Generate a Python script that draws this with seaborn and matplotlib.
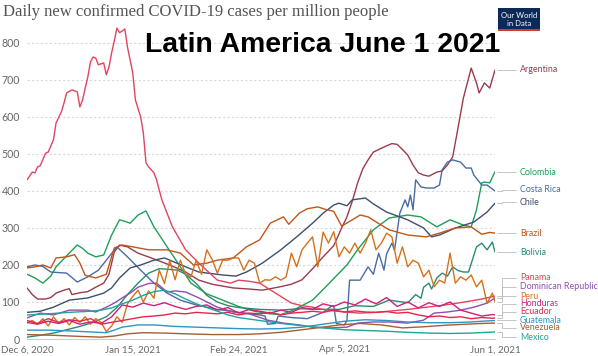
import pandas as pd
import matplotlib
matplotlib.use('Agg')
import matplotlib.pyplot as plt
import seaborn as sns
from matplotlib.patches import Rectangle

start = pd.Timestamp('2020-12-06')

# days after Dec 6 2020 / daily new cases per million
argentina_days = [0, 2, 4, 7, 9, 11, 14, 16, 17, 20, 23, 26, 29, 31, 33, 35, 38, 42, 47, 54, 60, 65, 70, 78, 84, 89,
                  95, 100, 104, 108, 112, 116, 119, 121, 123, 125, 127, 129, 131, 133, 136, 138, 140, 142, 144, 146,
                  148, 150, 152, 155, 157, 159, 161, 163, 165, 168, 170, 171, 173, 175, 177]
argentina_vals = [138, 120, 108, 108, 112, 124, 132, 136, 120, 125, 128, 140, 151, 175, 235, 254, 249, 232, 219, 200,
                  181, 159, 148, 138, 135, 132, 140, 148, 160, 190, 222, 252, 300, 330, 372, 421, 460, 484, 505, 512,
                  522, 528, 526, 512, 497, 470, 449, 443, 440, 451, 454, 470, 492, 570, 650, 732, 692, 665, 692, 678,
                  727]

colombia_days = [0, 3, 6, 9, 11, 15, 19, 21, 23, 26, 29, 32, 35, 37, 39, 42, 45, 48, 53, 58, 62, 68, 74, 80, 86, 92,
                 96, 100, 104, 108, 113, 118, 121, 125, 131, 137, 144, 149, 155, 160, 165, 168, 170, 172, 173, 175, 177]
colombia_vals = [175, 165, 151, 170, 195, 225, 254, 245, 232, 222, 227, 281, 322, 318, 313, 335, 346, 303, 249, 195,
                 151, 122, 105, 88, 75, 68, 66, 76, 90, 105, 141, 178, 200, 241, 295, 327, 335, 330, 303, 322, 308,
                 303, 349, 422, 424, 422, 452]

costa_rica_days = [0, 3, 6, 9, 15, 19, 23, 27, 31, 34, 38, 43, 48, 53, 58, 64, 72, 80, 88, 90, 91, 94, 95, 100, 106,
                   112, 115, 116, 117, 120, 121, 122, 126, 129, 131, 133, 134, 135, 136, 138, 139, 141, 143, 144, 145,
                   146, 147, 149, 151, 154, 156, 157, 159, 161, 164, 166, 168, 169, 172, 174, 177]
costa_rica_vals = [195, 200, 196, 181, 178, 154, 168, 186, 222, 249, 222, 186, 151, 124, 105, 92, 80, 72, 65, 62, 40,
                   42, 62, 58, 55, 72, 88, 90, 42, 38, 50, 159, 159, 195, 175, 232, 210, 186, 230, 259, 240, 340, 376,
                   357, 389, 349, 430, 411, 408, 408, 416, 457, 478, 484, 478, 462, 462, 443, 416, 416, 400]

chile_days = [0, 5, 10, 16, 23, 29, 32, 35, 39, 43, 48, 52, 55, 60, 65, 74, 79, 83, 89, 96, 102, 108, 112, 116, 118,
              121, 123, 128, 131, 136, 144, 150, 153, 156, 162, 169, 174, 177]
chile_vals = [72, 75, 86, 105, 111, 124, 138, 165, 192, 200, 213, 219, 210, 195, 181, 173, 170, 181, 205, 241, 276,
              313, 340, 362, 367, 360, 376, 381, 365, 343, 322, 300, 276, 281, 300, 316, 343, 367]

brazil_days = [0, 3, 6, 9, 11, 15, 18, 20, 22, 26, 30, 33, 36, 40, 46, 53, 58, 63, 68, 72, 78, 83, 88, 92, 97, 99,
               103, 106, 110, 113, 116, 119, 123, 126, 129, 133, 137, 144, 151, 156, 162, 168, 172, 175, 177]
brazil_vals = [192, 195, 200, 192, 219, 222, 228, 205, 172, 165, 175, 246, 254, 249, 241, 241, 232, 200, 205, 213,
               219, 249, 268, 313, 330, 310, 340, 352, 357, 350, 345, 305, 322, 335, 330, 312, 295, 281, 276, 286,
               300, 303, 283, 288, 286]

bolivia_days = [0, 5, 10, 15, 20, 25, 30, 34, 38, 42, 46, 50, 54, 57, 60, 64, 68, 72, 76, 80, 88, 96, 103, 110, 118,
                124, 131, 137, 144, 147, 149, 150, 152, 153, 155, 157, 159, 161, 163, 165, 167, 170, 172, 174, 176, 177]
bolivia_vals = [5, 10, 16, 25, 34, 45, 60, 85, 120, 151, 178, 190, 188, 186, 175, 150, 118, 100, 90, 85, 80, 78, 82,
                80, 80, 90, 88, 105, 98, 120, 110, 140, 151, 135, 165, 178, 170, 195, 185, 181, 181, 249, 259, 241,
                262, 235]

panama_days = [0, 2, 3, 4, 5, 7, 8, 10, 11, 13, 14, 15, 17, 19, 20, 21, 23, 24, 25, 26, 27, 29, 30, 31, 32, 33, 34,
               35, 36, 37, 38, 40, 41, 43, 44, 45, 46, 48, 49, 51, 55, 60, 65, 72, 77, 80, 84, 88, 94, 100, 104, 108,
               112, 116, 120, 126, 132, 138, 144, 150, 156, 162, 168, 172, 177]
panama_vals = [430, 451, 449, 465, 468, 502, 505, 538, 584, 614, 638, 665, 673, 668, 627, 646, 708, 749, 762, 759,
               741, 746, 714, 735, 773, 805, 840, 828, 832, 838, 789, 719, 646, 600, 557, 476, 465, 449, 430, 376,
               303, 241, 205, 159, 151, 159, 156, 151, 124, 97, 90, 86, 80, 76, 73, 70, 72, 76, 80, 85, 90, 96, 103,
               108, 116]

dominican_days = [0, 5, 10, 16, 23, 26, 30, 33, 36, 39, 42, 46, 49, 53, 56, 60, 65, 72, 78, 84, 91, 97, 103, 108,
                  115, 121, 125, 131, 137, 144, 150, 154, 159, 164, 169, 174, 177]
dominican_vals = [57, 70, 65, 78, 78, 73, 86, 97, 111, 124, 140, 150, 151, 127, 130, 127, 111, 86, 73, 68, 51, 43,
                  38, 32, 30, 32, 43, 46, 46, 43, 51, 70, 73, 78, 86, 97, 111]

peru_days = list(range(0, 177, 2)) + [177]
peru_vals = [43, 50, 40, 55, 35, 60, 42, 55, 38, 58, 45, 60, 40, 55, 45, 20, 35, 60, 45, 95, 115, 132, 100, 130, 110,
             186, 150, 213, 160, 213, 175, 168, 213, 175, 241, 215, 178, 213, 213, 219, 219, 186, 213, 205, 151, 160,
             159, 168, 159, 168, 232, 195, 241, 259, 276, 195, 289, 259, 290, 222, 249, 232, 259, 232, 259, 295, 241,
             259, 286, 276, 205, 249, 195, 213, 205, 168, 186, 141, 159, 151, 232, 151, 168, 159, 173, 141, 159, 97,
             124, 100]

honduras_days = list(range(0, 177, 4)) + [177]
honduras_vals = [45, 40, 48, 42, 50, 40, 46, 42, 60, 92, 86, 97, 90, 98, 88, 80, 88, 92, 78, 85, 70, 80, 75, 70, 78,
                 72, 85, 80, 95, 88, 100, 92, 108, 95, 112, 88, 100, 84, 98, 88, 100, 78, 70, 62, 66, 65]

ecuador_days = list(range(0, 177, 4)) + [177]
ecuador_vals = [50, 42, 55, 45, 52, 48, 55, 40, 45, 50, 55, 60, 62, 65, 70, 68, 72, 70, 68, 72, 65, 70, 68, 72, 65,
                70, 72, 75, 72, 78, 73, 76, 73, 72, 74, 70, 72, 65, 60, 62, 58, 60, 55, 58, 56, 57]

guatemala_days = [0, 8, 16, 24, 30, 33, 36, 42, 48, 56, 64, 72, 80, 88, 96, 104, 112, 120, 128, 136, 144, 152, 160,
                  168, 172, 177]
guatemala_vals = [24, 24, 22, 19, 17, 24, 32, 38, 38, 34, 32, 30, 28, 27, 28, 32, 40, 48, 52, 50, 46, 44, 44, 46, 48,
                  50]

venezuela_days = [0, 10, 20, 28, 33, 38, 44, 52, 60, 70, 80, 88, 96, 104, 112, 118, 126, 134, 142, 150, 158, 166, 172,
                  177]
venezuela_vals = [12, 10, 7, 5, 8, 14, 17, 16, 14, 12, 12, 14, 18, 25, 32, 38, 42, 38, 30, 33, 37, 40, 42, 43]

mexico_days = [0, 8, 16, 24, 28, 32, 36, 40, 44, 48, 52, 56, 60, 64, 68, 72, 76, 80, 88, 96, 104, 112, 120, 128, 136,
               144, 152, 160, 168, 177]
mexico_vals = [65, 68, 72, 75, 78, 84, 95, 105, 118, 128, 132, 122, 108, 95, 85, 75, 65, 58, 50, 42, 36, 30, 25, 23,
               21, 18, 16, 15, 16, 19]

countries = ['Argentina', 'Colombia', 'Costa Rica', 'Chile', 'Brazil', 'Bolivia', 'Panama', 'Dominican Republic',
             'Peru', 'Honduras', 'Ecuador', 'Guatemala', 'Venezuela', 'Mexico']
series = {
    'Argentina': (argentina_days, argentina_vals),
    'Colombia': (colombia_days, colombia_vals),
    'Costa Rica': (costa_rica_days, costa_rica_vals),
    'Chile': (chile_days, chile_vals),
    'Brazil': (brazil_days, brazil_vals),
    'Bolivia': (bolivia_days, bolivia_vals),
    'Panama': (panama_days, panama_vals),
    'Dominican Republic': (dominican_days, dominican_vals),
    'Peru': (peru_days, peru_vals),
    'Honduras': (honduras_days, honduras_vals),
    'Ecuador': (ecuador_days, ecuador_vals),
    'Guatemala': (guatemala_days, guatemala_vals),
    'Venezuela': (venezuela_days, venezuela_vals),
    'Mexico': (mexico_days, mexico_vals),
}
colors = {
    'Argentina': '#9b3b4b', 'Colombia': '#1e9e58', 'Costa Rica': '#4a6ba5', 'Chile': '#3e4f6e',
    'Brazil': '#c0561a', 'Bolivia': '#2a8b70', 'Panama': '#e0455e', 'Dominican Republic': '#8e4fb0',
    'Peru': '#d2721c', 'Honduras': '#d0207a', 'Ecuador': '#e3264f', 'Guatemala': '#2e95c2',
    'Venezuela': '#a65e2e', 'Mexico': '#1fa59b',
}
# where the end labels sit (cases per million scale)
label_y = {
    'Argentina': 727, 'Colombia': 451, 'Costa Rica': 403, 'Chile': 370, 'Brazil': 286, 'Bolivia': 235,
    'Panama': 165, 'Dominican Republic': 141, 'Peru': 116, 'Honduras': 95, 'Ecuador': 73, 'Guatemala': 51,
    'Venezuela': 30, 'Mexico': 5,
}
tick_dates = ['2020-12-06', '2021-01-15', '2021-02-24', '2021-04-05', '2021-06-01']
tick_labels = ['Dec 6, 2020', 'Jan 15, 2021', 'Feb 24, 2021', 'Apr 5, 2021', 'Jun 1, 2021']

rows = []
for name in countries:
    days, vals = series[name]
    for d, v in zip(days, vals):
        rows.append((name, start + pd.Timedelta(days=d), v))
df = pd.DataFrame(rows, columns=['country', 'date', 'cases'])

sns.set_style('white')
plt.rcParams['font.family'] = ['Lato', 'DejaVu Sans']

fig = plt.figure(figsize=(5.98, 3.56), dpi=100)
ax = fig.add_axes([27 / 598, 17 / 356, 468 / 598, 316.4 / 356])

sns.lineplot(data=df, x='date', y='cases', hue='country', hue_order=countries, palette=colors,
             estimator=None, sort=False, linewidth=1.0, legend=False, ax=ax)

ax.set_xlim(start, pd.Timestamp('2021-06-01'))
ax.set_ylim(0, 855)
ax.set_yticks(range(0, 801, 100))
ax.set_xticks(pd.to_datetime(tick_dates))
ax.set_xticklabels(tick_labels)
ax.set_xlabel('')
ax.set_ylabel('')
ax.yaxis.grid(True, color='#d9d9d9', linestyle=(0, (2, 2)), linewidth=0.8)
ax.xaxis.grid(False)
ax.set_axisbelow(True)
for s in ['top', 'right', 'left']:
    ax.spines[s].set_visible(False)
ax.spines['bottom'].set_color('#cccccc')
ax.spines['bottom'].set_linewidth(0.8)
ax.tick_params(axis='y', length=0, pad=5, labelsize=7.6, labelcolor='#666666')
ax.tick_params(axis='x', length=3, color='#cccccc', pad=1.6, labelsize=7, labelcolor='#666666')

trans = ax.get_yaxis_transform()
for name in countries:
    y_end = series[name][1][-1]
    y_lab = label_y[name]
    ax.plot([1.005, 1.015, 1.015, 1.045], [y_end, y_end, y_lab, y_lab], transform=trans,
            color='#bbbbbb', lw=0.6, clip_on=False)
    ax.text(1.053, y_lab, name, transform=trans, color=colors[name], fontsize=6.4, va='center', ha='left')

fig.text(3 / 598, 1 - 12 / 356, 'Daily new confirmed COVID-19 cases per million people',
         family='Liberation Serif', fontsize=12, color='#555555', va='center', ha='left')
fig.text(145 / 598, 1 - 52 / 356, 'Latin America June 1 2021', family='Liberation Sans',
         fontweight='bold', fontsize=20.4, color='black', va='baseline', ha='left')

# Our World in Data badge
fig.patches.append(Rectangle((498 / 598, 1 - 30 / 356), 42 / 598, 22 / 356, transform=fig.transFigure,
                             facecolor='#0b2a57', edgecolor='none'))
fig.patches.append(Rectangle((498 / 598, 1 - 31 / 356), 42 / 598, 2 / 356, transform=fig.transFigure,
                             facecolor='#d63a2f', edgecolor='none'))
fig.text(519 / 598, 1 - 19.5 / 356, 'Our World\nin Data', color='white', fontsize=5.5, ha='center', va='center',
         linespacing=1.0)

fig.savefig('out.png', dpi=100)
